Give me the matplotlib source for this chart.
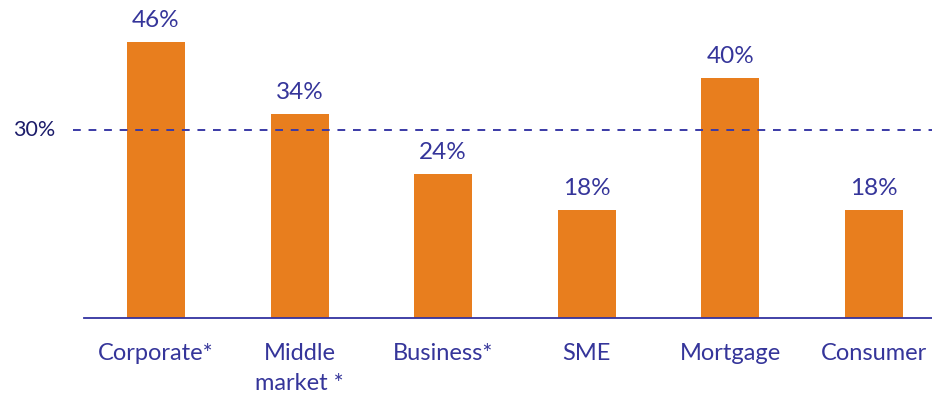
import matplotlib.pyplot as plt
import numpy as np

plt.rcParams['font.family'] = ['Lato', 'DejaVu Sans']

categories = ['Corporate*', 'Middle\nmarket *', 'Business*', 'SME', 'Mortgage', 'Consumer']
shares = [46, 34, 24, 18, 40, 18]
value_labels = ['46%', '34%', '24%', '18%', '40%', '18%']
# dashed reference line, drawn where the picture puts it
ref_level = 31.3
ref_label = '30%'

bar_color = '#E87E1E'
text_color = '#35359A'
dark_navy = '#1C1C6A'

fig = plt.figure(figsize=(9.32, 4.0), dpi=100)
ax = fig.add_axes([84 / 932, 82 / 400, 848 / 932, 318 / 400])

x = np.arange(len(categories))
bars = ax.bar(x, shares, width=0.404, color=bar_color, zorder=2)

for b, lab in zip(bars, value_labels):
    ax.annotate(lab, (b.get_x() + b.get_width() / 2, b.get_height()),
                xytext=(0, 8), textcoords='offset points',
                ha='center', va='bottom', fontsize=17.5, color=text_color)

# dashed line runs a bit to the left of the axis
trans = ax.get_yaxis_transform()
ax.plot([-0.013, 1.0], [ref_level, ref_level], transform=trans, clip_on=False,
        color='#3A3AA6', linestyle=(0, (4, 4)), linewidth=1.4, zorder=3)
ax.text(-0.034, ref_level, ref_label, transform=trans, ha='right', va='center',
        fontsize=15.5, color=dark_navy)

ax.set_xlim(-0.501, 5.404)
ax.set_ylim(0, 53)
ax.set_xticks(x)
ax.set_xticklabels(categories, fontsize=17, color=text_color, linespacing=1.5)
ax.tick_params(axis='x', length=0, pad=18)
ax.set_yticks([])

for s in ['top', 'right', 'left']:
    ax.spines[s].set_visible(False)
ax.spines['bottom'].set_color('#3333A0')
ax.spines['bottom'].set_linewidth(1.3)
ax.spines['bottom'].set_zorder(4)

fig.savefig('out.png', dpi=100)
